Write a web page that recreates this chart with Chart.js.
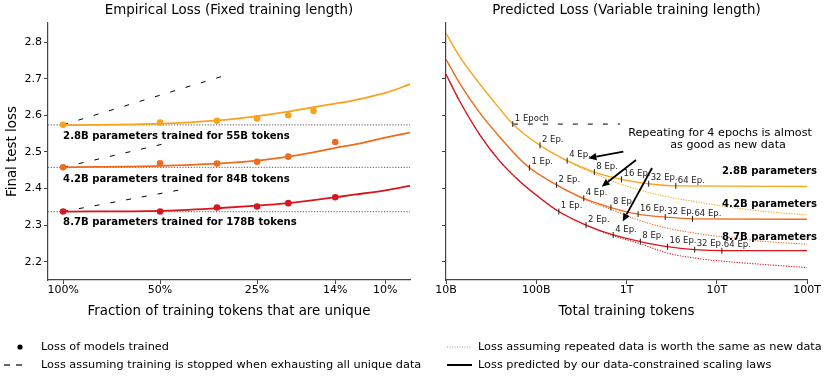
<!DOCTYPE html>
<html>
<head>
<meta charset="utf-8">
<script src="https://cdn.jsdelivr.net/npm/chart.js@4.4.0/dist/chart.umd.min.js"></script>
<style>
  body { margin: 0; width: 831px; height: 381px; background: #fff; position: relative; overflow: hidden; font-family: "DejaVu Sans", sans-serif; }
  #left { position: absolute; left: 0; top: 0; }
  #right { position: absolute; left: 420px; top: 0; }
  #handles { position: absolute; left: 0; top: 0; }
  .leg { position: absolute; font-size: 11.3px; line-height: 14px; white-space: nowrap; color: #000; }
</style>
</head>
<body>
<canvas id="left" width="420" height="330"></canvas>
<canvas id="right" width="411" height="330"></canvas>
<svg id="handles" width="831" height="381">
  <circle cx="20" cy="347" r="2.6" fill="#000"/>
  <line x1="4" y1="365" x2="10" y2="365" stroke="#000" stroke-width="1.2"/>
  <line x1="16" y1="365" x2="22" y2="365" stroke="#000" stroke-width="1.2"/>
  <line x1="447" y1="347" x2="472" y2="347" stroke="#999" stroke-width="1" stroke-dasharray="1,1.5"/>
  <line x1="447" y1="365" x2="472" y2="365" stroke="#000" stroke-width="2"/>
</svg>
<div class="leg" style="left:41px; top:340px">Loss of models trained</div>
<div class="leg" style="left:41px; top:358px">Loss assuming training is stopped when exhausting all unique data</div>
<div class="leg" style="left:478px; top:340px">Loss assuming repeated data is worth the same as new data</div>
<div class="leg" style="left:478px; top:358px">Loss predicted by our data-constrained scaling laws</div>
<script>
// 공통 설정
Chart.defaults.font.family = '"DejaVu Sans", sans-serif';
Chart.defaults.color = '#000';

const colors = ['#fba21b', '#f26a1c', '#d9161c'];
const yTickVals = [2.2, 2.3, 2.4, 2.5, 2.6, 2.7, 2.8];

/* 왼쪽: 고유 토큰 비율(%) */
const xTickVals = [100, 50, 25, 14.3, 10];
const xTickText = ['100%', '50%', '25%', '14%', '10%'];

// 학습된 모델의 손실 (점)
const obsPct28 = [100, 50, 33.3, 25, 20, 16.7];
const obsLoss28 = [2.574, 2.580, 2.585, 2.591, 2.600, 2.612];
const obsPct42 = [100, 50, 33.3, 25, 20, 14.3];
const obsLoss42 = [2.458, 2.469, 2.468, 2.473, 2.487, 2.527];
const obsPct87 = [100, 50, 33.3, 25, 20, 14.3];
const obsLoss87 = [2.337, 2.337, 2.348, 2.351, 2.360, 2.376];

// 스케일링 법칙 예측 (실선)
const fitPct = [100, 50, 33.3, 25, 20, 16.7, 14.3, 12.5, 10, 8.38];
const fit28 = [2.573, 2.577, 2.586, 2.598, 2.610, 2.622, 2.632, 2.641, 2.661, 2.685];
const fit42 = [2.458, 2.462, 2.468, 2.476, 2.487, 2.499, 2.511, 2.520, 2.539, 2.553];
const fit87 = [2.337, 2.339, 2.346, 2.353, 2.360, 2.368, 2.376, 2.383, 2.395, 2.407];

// 고유 데이터 소진 시 학습 중단 (점선)
const stopPct28 = [100, 50, 30.3];
const stop28 = [2.574, 2.655, 2.713];
const stopPct42 = [100, 47.6];
const stop42 = [2.458, 2.524];
const stopPct87 = [100, 42.3];
const stop87 = [2.337, 2.398];

// 기준선 (회색 점선)
const baseLoss = [2.574, 2.458, 2.337];
const leftLabels = ['2.8B parameters trained for 55B tokens', '4.2B parameters trained for 84B tokens', '8.7B parameters trained for 178B tokens'];
const leftLabelY = [2.542, 2.426, 2.308];

/* 오른쪽: 총 학습 토큰 (B 단위) */
const tokTicks = [10, 100, 1000, 10000, 100000];
const tokTickText = ['10B', '100B', '1T', '10T', '100T'];

const solidTok28 = [10, 14.3, 23.8, 39.6, 55, 110, 220, 440, 880, 1760, 3520, 100000];
const solid28 = [2.824, 2.759, 2.685, 2.617, 2.576, 2.518, 2.476, 2.445, 2.425, 2.413, 2.407, 2.406];
const solidTok42 = [10, 14.3, 23.8, 39.6, 66, 84, 168, 336, 672, 1344, 2688, 5376, 100000];
const solid42 = [2.753, 2.686, 2.606, 2.540, 2.480, 2.457, 2.410, 2.373, 2.348, 2.330, 2.322, 2.317, 2.316];
const solidTok87 = [10, 14.3, 23.8, 39.6, 66, 110, 178, 356, 712, 1424, 2848, 5696, 11392, 100000];
const solid87 = [2.712, 2.637, 2.546, 2.474, 2.419, 2.374, 2.337, 2.300, 2.273, 2.255, 2.241, 2.233, 2.230, 2.230];

const newTok28 = [10, 14.3, 23.8, 39.6, 55, 110, 220, 440, 1180, 2800, 6500, 15000, 35000, 100000];
const new28 = [2.824, 2.759, 2.685, 2.617, 2.576, 2.518, 2.475, 2.440, 2.401, 2.378, 2.362, 2.348, 2.337, 2.328];
const newTok42 = [10, 14.3, 23.8, 39.6, 66, 84, 168, 336, 672, 1180, 2800, 6500, 15000, 35000, 100000];
const new42 = [2.753, 2.686, 2.606, 2.540, 2.480, 2.457, 2.410, 2.371, 2.343, 2.319, 2.292, 2.276, 2.265, 2.255, 2.248];
const newTok87 = [10, 14.3, 23.8, 39.6, 66, 110, 178, 356, 712, 1424, 2800, 6500, 15000, 35000, 100000];
const new87 = [2.712, 2.637, 2.546, 2.474, 2.419, 2.374, 2.337, 2.300, 2.271, 2.249, 2.224, 2.208, 2.199, 2.192, 2.184];

// 에폭 표시
const epochTok28 = [55, 110, 220, 440, 880, 1760, 3520];
const epochLoss28 = [2.576, 2.518, 2.476, 2.445, 2.425, 2.413, 2.407];
const epochTok42 = [84, 168, 336, 672, 1344, 2688, 5376];
const epochLoss42 = [2.457, 2.410, 2.373, 2.348, 2.330, 2.322, 2.317];
const epochTok87 = [178, 356, 712, 1424, 2848, 5696, 11392];
const epochLoss87 = [2.337, 2.300, 2.273, 2.255, 2.241, 2.233, 2.230];
const epochText28 = ['1 Epoch', '2 Ep.', '4 Ep.', '8 Ep.', '16 Ep.', '32 Ep.', '64 Ep.'];
const epochText = ['1 Ep.', '2 Ep.', '4 Ep.', '8 Ep.', '16 Ep.', '32 Ep.', '64 Ep.'];

const oneEpochTok = [55, 850];
const oneEpochLoss = [2.576, 2.576];

const rightLabels = ['2.8B parameters', '4.2B parameters', '8.7B parameters'];
const rightLabelY = [2.446, 2.357, 2.267];
const noteLines = ['Repeating for 4 epochs is almost', 'as good as new data'];
const noteTok = [10870, 13340];
const noteLoss = [2.551, 2.519];
const arrowTail = [[923, 2.501], [1274, 2.478], [1918, 2.456]];
const arrowHead = [[378, 2.483], [531, 2.405], [908, 2.310]];

const xy = (xs, ys) => xs.map((x, i) => ({ x, y: ys[i] }));

function yAxis(labels, width) {
    return {
        min: 2.15, max: 2.852,
        afterBuildTicks: s => { s.ticks = yTickVals.map(v => ({ value: v })); },
        afterFit: s => { s.width = width; },
        ticks: { font: { size: 11 }, padding: 2, callback: v => labels ? v.toFixed(1) : '' },
        grid: { drawOnChartArea: false, tickLength: 4, color: '#444' },
        border: { color: '#444', width: 1.2 },
        title: { display: labels, text: 'Final test loss', font: { size: 13.4 }, padding: { top: 4, bottom: 4 } }
    };
}

function xAxis(min, max, vals, text, title, reverse) {
    return {
        type: 'logarithmic', min, max, reverse,
        afterBuildTicks: s => { s.ticks = vals.map(v => ({ value: v })); },
        afterFit: s => { s.height = 43; },
        ticks: { font: { size: 11 }, padding: 0, maxRotation: 0, autoSkip: false, callback: (v, i) => text[i] },
        grid: { drawOnChartArea: false, tickLength: 4, color: '#444' },
        border: { color: '#444', width: 1.2 },
        title: { display: true, text: title, font: { size: 13.4 }, padding: { top: 4, bottom: 3 } }
    };
}

function lineSet(data, color, width, order, dash) {
    return {
        data, borderColor: color, backgroundColor: color, borderWidth: width,
        borderDash: dash || [], pointRadius: 0, cubicInterpolationMode: 'monotone', order
    };
}

/* 왼쪽 차트 */
const leftText = {
    id: 'leftText',
    afterDatasetsDraw(chart) {
        const { ctx, scales: { x, y } } = chart;
        ctx.save();
        ctx.font = 'bold 10.1px "DejaVu Sans"';
        ctx.fillStyle = '#000';
        ctx.textBaseline = 'middle';
        leftLabels.forEach((t, i) => ctx.fillText(t, x.getPixelForValue(100), y.getPixelForValue(leftLabelY[i])));
        ctx.restore();
    }
};

const leftSets = [];
[[obsPct28, obsLoss28], [obsPct42, obsLoss42], [obsPct87, obsLoss87]].forEach(([p, l], i) => {
    leftSets.push({ data: xy(p, l), showLine: false, pointRadius: 3.3, pointBorderWidth: 0,
        pointBackgroundColor: colors[i], borderColor: colors[i], order: 1 });
});
[fit28, fit42, fit87].forEach((f, i) => leftSets.push(lineSet(xy(fitPct, f), colors[i], 1.8, 2)));
[[stopPct28, stop28], [stopPct42, stop42], [stopPct87, stop87]].forEach(([p, l]) =>
    leftSets.push(lineSet(xy(p, l), '#000', 1, 3, [5, 11])));
baseLoss.forEach(v => leftSets.push(lineSet(xy([111.4, 8.38], [v, v]), '#777', 1.2, 4, [1.2, 1.6])));

new Chart(document.getElementById('left'), {
    type: 'line',
    data: { datasets: leftSets },
    options: {
        responsive: false, animation: false, devicePixelRatio: 1,
        layout: { padding: { left: 0, right: 10, top: 0, bottom: 7 } },
        plugins: {
            legend: { display: false }, tooltip: { enabled: false },
            title: { display: true, text: 'Empirical Loss (Fixed training length)', fullSize: false,
                font: { size: 13.4, weight: 'normal' }, padding: { top: 2, bottom: 5 } }
        },
        scales: {
            x: xAxis(8.38, 111.4, xTickVals, xTickText, 'Fraction of training tokens that are unique', true),
            y: yAxis(true, 48)
        }
    },
    plugins: [leftText]
});

/* 오른쪽 차트 */
function drawArrow(ctx, x1, y1, x2, y2) {
    const a = Math.atan2(y2 - y1, x2 - x1);
    const hl = 8, hw = 3.6;
    const bx = x2 - hl * Math.cos(a), by = y2 - hl * Math.sin(a);
    ctx.beginPath(); ctx.moveTo(x1, y1); ctx.lineTo(bx, by); ctx.stroke();
    ctx.beginPath(); ctx.moveTo(x2, y2);
    ctx.lineTo(bx - hw * Math.sin(a), by + hw * Math.cos(a));
    ctx.lineTo(bx + hw * Math.sin(a), by - hw * Math.cos(a));
    ctx.closePath(); ctx.fill();
}

const rightText = {
    id: 'rightText',
    afterDatasetsDraw(chart) {
        const { ctx, chartArea, scales: { x, y } } = chart;
        ctx.save();
        ctx.fillStyle = '#222';
        ctx.textBaseline = 'middle';
        ctx.font = '8.5px "DejaVu Sans"';
        [[epochTok28, epochLoss28, epochText28], [epochTok42, epochLoss42, epochText], [epochTok87, epochLoss87, epochText]]
            .forEach(([t, l, s]) => t.forEach((v, i) =>
                ctx.fillText(s[i], x.getPixelForValue(v) + 2, y.getPixelForValue(l[i]) - 5.5)));

        ctx.fillStyle = '#000';
        ctx.font = '11.2px "DejaVu Sans"';
        ctx.textAlign = 'center';
        noteLines.forEach((t, i) => ctx.fillText(t, x.getPixelForValue(noteTok[i]), y.getPixelForValue(noteLoss[i])));

        ctx.font = 'bold 10.1px "DejaVu Sans"';
        ctx.textAlign = 'right';
        rightLabels.forEach((t, i) => ctx.fillText(t, chartArea.right + 10, y.getPixelForValue(rightLabelY[i])));

        ctx.strokeStyle = '#000';
        ctx.lineWidth = 1.8;
        arrowTail.forEach((t, i) => drawArrow(ctx,
            x.getPixelForValue(t[0]), y.getPixelForValue(t[1]),
            x.getPixelForValue(arrowHead[i][0]), y.getPixelForValue(arrowHead[i][1])));
        ctx.restore();
    }
};

const rightSets = [];
[[epochTok28, epochLoss28], [epochTok42, epochLoss42], [epochTok87, epochLoss87]].forEach(([t, l]) => {
    rightSets.push({ data: xy(t, l), showLine: false, pointStyle: 'line', rotation: 90, pointRadius: 3,
        pointBorderWidth: 1, pointBorderColor: '#222', borderColor: '#222', order: 1 });
});
[[solidTok28, solid28], [solidTok42, solid42], [solidTok87, solid87]].forEach(([t, l], i) =>
    rightSets.push(lineSet(xy(t, l), colors[i], 1.3, 2)));
[[newTok28, new28], [newTok42, new42], [newTok87, new87]].forEach(([t, l], i) =>
    rightSets.push(lineSet(xy(t, l), colors[i], 1.1, 3, [1.2, 1.4])));
rightSets.push(lineSet(xy(oneEpochTok, oneEpochLoss), '#000', 1, 4, [5, 10]));

new Chart(document.getElementById('right'), {
    type: 'line',
    data: { datasets: rightSets },
    options: {
        responsive: false, animation: false, devicePixelRatio: 1,
        layout: { padding: { left: 0, right: 24, top: 0, bottom: 7 } },
        plugins: {
            legend: { display: false }, tooltip: { enabled: false },
            title: { display: true, text: 'Predicted Loss (Variable training length)', fullSize: false,
                font: { size: 13.4, weight: 'normal' }, padding: { top: 2, bottom: 5 } }
        },
        scales: {
            x: xAxis(10, 100000, tokTicks, tokTickText, 'Total training tokens', false),
            y: yAxis(false, 26)
        }
    },
    plugins: [rightText]
});
</script>
</body>
</html>
